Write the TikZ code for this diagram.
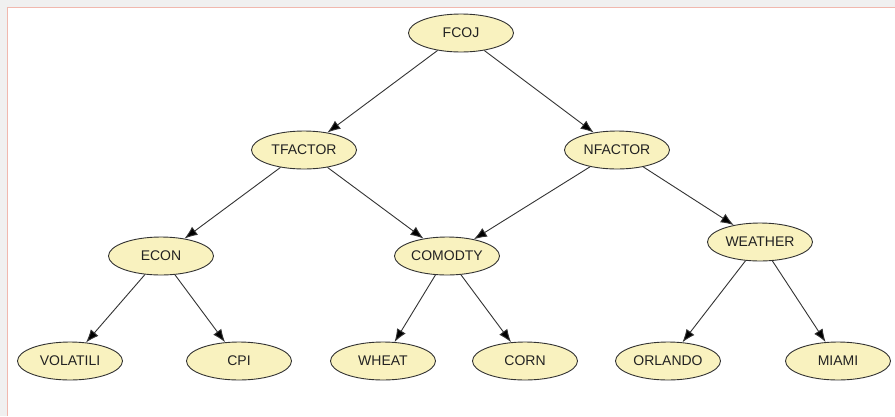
\documentclass[tikz,border=0pt]{standalone}
\usepackage{fontspec}
\setmainfont{Liberation Sans}
\usetikzlibrary{shapes.geometric,arrows.meta}
\definecolor{bggray}{HTML}{F0F0F0}
\definecolor{panelborder}{HTML}{F0B8AE}
\definecolor{nodefill}{HTML}{F9F2BF}
\definecolor{nodeline}{HTML}{333333}
\definecolor{edgecol}{HTML}{333333}
\definecolor{textcol}{HTML}{222222}
\tikzset{
  var/.style={ellipse, draw=nodeline, line width=0.9pt, fill=nodefill,
    minimum width=105pt, minimum height=38pt, inner sep=0pt,
    font=\fontsize{14}{16}\selectfont, text=textcol},
  link/.style={draw=edgecol, line width=0.9pt, -{Latex[length=13pt,width=10pt,fill=black]}}
}
\begin{document}
\begin{tikzpicture}[x=1pt,y=-1pt]
\useasboundingbox (0,0) rectangle (895,416);
\fill[bggray] (0,0) rectangle (895,416);
\fill[white] (7.5,7.5) rectangle (895,416);
\draw[panelborder, line width=1pt] (7.5,416) -- (7.5,7.5) -- (895,7.5);

\node[var] (fcoj) at (461,33) {FCOJ};
\node[var] (tfactor) at (304,150) {TFACTOR};
\node[var] (nfactor) at (617,150) {NFACTOR};
\node[var] (econ) at (161,256) {ECON};
\node[var] (comodty) at (447,256) {COMODTY};
\node[var] (weather) at (760,242) {WEATHER};
\node[var] (volatili) at (70,361) {VOLATILI};
\node[var] (cpi) at (239,361) {CPI};
\node[var] (wheat) at (383,361) {WHEAT};
\node[var] (corn) at (525,361) {CORN};
\node[var] (orlando) at (668,361) {ORLANDO};
\node[var] (miami) at (838,361) {MIAMI};

\draw[link] (fcoj) -- (tfactor);
\draw[link] (fcoj) -- (nfactor);
\draw[link] (tfactor) -- (econ);
\draw[link] (tfactor) -- (comodty);
\draw[link] (nfactor) -- (comodty);
\draw[link] (nfactor) -- (weather);
\draw[link] (econ) -- (volatili);
\draw[link] (econ) -- (cpi);
\draw[link] (comodty) -- (wheat);
\draw[link] (comodty) -- (corn);
\draw[link] (weather) -- (orlando);
\draw[link] (weather) -- (miami);
\end{tikzpicture}
\end{document}
